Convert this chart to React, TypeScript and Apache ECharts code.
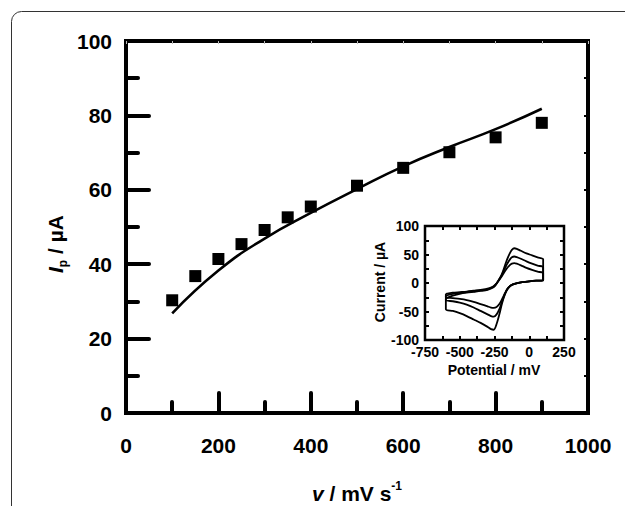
import React, { useEffect, useRef } from "react";
import * as echarts from "echarts";

// Main plot: peak current vs scan rate
const scanRates = [100, 150, 200, 250, 300, 350, 400, 500, 600, 700, 800, 900];
const peakCurrents = [30.3, 36.8, 41.4, 45.4, 49.2, 52.6, 55.5, 61.1, 65.9, 70.1, 74.1, 78.0];
const fitRates = [100, 200, 300, 400, 500, 600, 700, 800, 900];
const fitCurrents = [26.8, 38.3, 46.9, 53.8, 60.2, 66.3, 71.5, 76.3, 81.8];

// Inset: cyclic voltammograms (potential in mV, current in µA)
const forwardPotentials = [-600, -550, -500, -450, -400, -350, -300, -260, -240, -220, -200, -180, -160, -140, -125, -108, -90, -60, -20, 20, 60, 100];
const reversePotentials = [100, 50, 0, -50, -100, -130, -155, -175, -195, -215, -235, -255, -275, -300, -350, -400, -450, -500, -550, -600];
const forwardA = [-27, -22, -19, -17, -15.5, -14, -12, -8, -3, 5, 14, 27, 41, 52, 58, 61, 60, 56.5, 52, 48.5, 45, 41.5];
const forwardB = [-22, -19, -17.5, -16, -14.5, -13, -11, -7, -2.5, 5, 13, 23, 33, 41, 45, 46.5, 45.5, 42.5, 38, 34, 30.5, 27.5];
const forwardC = [-19, -17, -16, -15, -13.5, -12, -10, -6, -2, 4, 11, 19, 26, 31.5, 34, 35, 34, 31, 26.5, 23, 20, 17];
const reverseA = [4.5, 4, 3, 1.5, -1, -4, -10, -20, -35, -55, -72, -82, -81, -77, -70, -64, -58, -53, -49, -46];
const reverseB = [4.5, 4, 3, 1.5, -1, -4, -10, -19, -32, -46, -55, -59, -58, -55, -49, -43, -38, -34.5, -32, -30];
const reverseC = [4.5, 4, 3, 1.5, -1, -4, -9.5, -18, -28, -37, -42, -43.5, -43, -41, -37, -33, -30, -28, -26.5, -25];

const mainXTicks = { min: 0, max: 1000, interval: 200 };
const mainYTicks = { min: 0, max: 100, interval: 20 };
const insetXTicks = { min: -750, max: 250, interval: 250 };
const insetYTicks = { min: -100, max: 100, interval: 50 };

const FONT = "'Liberation Sans', Arial, Helvetica, sans-serif";

function loop(fp: number[], fv: number[], rp: number[], rv: number[]) {
  const pts: number[][] = [];
  fp.forEach((p, i) => pts.push([p, fv[i]]));
  rp.forEach((p, i) => pts.push([p, rv[i]]));
  pts.push([fp[0], fv[0]]);
  return pts;
}

export default function App() {
  const ref = useRef<HTMLDivElement>(null);
  useEffect(() => {
    if (!ref.current) return;
    const chart = echarts.init(ref.current, null, { renderer: "svg" });
    const black = "#000";
    const plain = (v: number) => String(v);
    const mainLabel = { color: black, fontFamily: FONT, fontWeight: "bold" as const, fontSize: 21, formatter: plain };
    const insetLabel = { color: black, fontFamily: FONT, fontWeight: "bold" as const, fontSize: 14, formatter: plain };
    const cvStyle = { color: black, width: 1.8 };
    const noLine = { show: false, onZero: false };
    const smallTick = { show: true, inside: true, length: 4, lineStyle: { color: black, width: 2 } };
    const smallMinor = { show: true, splitNumber: 2, length: 4, lineStyle: { color: black, width: 2 } };

    const option: any = {
      animation: false,
      backgroundColor: "#fff",
      grid: [
        { left: 126, top: 41, width: 462, height: 372, show: true, borderColor: black, borderWidth: 4, backgroundColor: "transparent" },
        { left: 425, top: 226, width: 139, height: 114, show: true, borderColor: black, borderWidth: 2.5, backgroundColor: "transparent" },
      ],
      xAxis: [
        {
          type: "value", gridIndex: 0, position: "bottom", ...mainXTicks,
          axisLine: noLine, splitLine: { show: false },
          axisTick: { show: true, inside: true, length: 20, lineStyle: { color: black, width: 4, cap: "round" } },
          minorTick: { show: true, splitNumber: 2, length: 11, lineStyle: { color: black, width: 4, cap: "round" } },
          axisLabel: { ...mainLabel, margin: 22 },
        },
        {
          type: "value", gridIndex: 0, position: "top", min: 0, max: 1000, interval: 100,
          axisLine: noLine, splitLine: { show: false },
          axisTick: { show: true, inside: true, length: 3, lineStyle: { color: "#bbb", width: 1 } },
          axisLabel: { show: false },
        },
        {
          type: "value", gridIndex: 1, position: "bottom", ...insetXTicks,
          axisLine: noLine, splitLine: { show: false },
          axisTick: smallTick, minorTick: smallMinor,
          axisLabel: { ...insetLabel, margin: 5 },
        },
        {
          type: "value", gridIndex: 1, position: "top", ...insetXTicks,
          axisLine: noLine, splitLine: { show: false },
          axisTick: smallTick, minorTick: smallMinor,
          axisLabel: { show: false },
        },
      ],
      yAxis: [
        {
          type: "value", gridIndex: 0, position: "left", ...mainYTicks,
          axisLine: noLine, splitLine: { show: false },
          axisTick: { show: true, inside: true, length: 23, lineStyle: { color: black, width: 4, cap: "round" } },
          minorTick: { show: true, splitNumber: 2, length: 12, lineStyle: { color: black, width: 4, cap: "round" } },
          axisLabel: { ...mainLabel, margin: 14 },
        },
        {
          type: "value", gridIndex: 0, position: "right", min: 0, max: 100, interval: 10,
          axisLine: noLine, splitLine: { show: false },
          axisTick: { show: true, inside: true, length: 4, lineStyle: { color: black, width: 2 } },
          axisLabel: { show: false },
        },
        {
          type: "value", gridIndex: 1, position: "left", ...insetYTicks,
          axisLine: noLine, splitLine: { show: false },
          axisTick: smallTick, minorTick: smallMinor,
          axisLabel: { ...insetLabel, margin: 6 },
        },
        {
          type: "value", gridIndex: 1, position: "right", ...insetYTicks,
          axisLine: noLine, splitLine: { show: false },
          axisTick: smallTick, minorTick: smallMinor,
          axisLabel: { show: false },
        },
      ],
      series: [
        {
          type: "line", xAxisIndex: 0, yAxisIndex: 0, showSymbol: false, smooth: true,
          lineStyle: { color: black, width: 2.6 },
          data: fitRates.map((v, i) => [v, fitCurrents[i]]),
          z: 3,
        },
        {
          type: "scatter", xAxisIndex: 0, yAxisIndex: 0, symbol: "rect", symbolSize: 12,
          itemStyle: { color: black, opacity: 1 },
          data: scanRates.map((v, i) => [v, peakCurrents[i]]),
          z: 4,
        },
        { type: "line", xAxisIndex: 2, yAxisIndex: 2, showSymbol: false, smooth: 0.3, lineStyle: cvStyle, data: loop(forwardPotentials, forwardA, reversePotentials, reverseA) },
        { type: "line", xAxisIndex: 2, yAxisIndex: 2, showSymbol: false, smooth: 0.3, lineStyle: cvStyle, data: loop(forwardPotentials, forwardB, reversePotentials, reverseB) },
        { type: "line", xAxisIndex: 2, yAxisIndex: 2, showSymbol: false, smooth: 0.3, lineStyle: cvStyle, data: loop(forwardPotentials, forwardC, reversePotentials, reverseC) },
      ],
      graphic: [
        {
          type: "rect", z: -10, silent: true,
          shape: { x: 11.5, y: 11.5, width: 900, height: 900, r: 10 },
          style: { fill: "none", stroke: "#333", lineWidth: 1 },
        },
        {
          type: "text", x: 55, y: 244, rotation: Math.PI / 2,
          style: {
            text: "{i|I}{sub|p}{n| / µA}",
            textAlign: "center", textVerticalAlign: "middle", fill: black,
            rich: {
              i: { fontFamily: FONT, fontWeight: "bold", fontStyle: "italic", fontSize: 21, lineHeight: 28, fill: black },
              sub: { fontFamily: FONT, fontWeight: "bold", fontSize: 12, lineHeight: 28, verticalAlign: "bottom", fill: black },
              n: { fontFamily: FONT, fontWeight: "bold", fontSize: 21, lineHeight: 28, fill: black },
            },
          },
        },
        {
          type: "text", x: 357, y: 493,
          style: {
            text: "{i|v}{n| / mV s}{sup|-1}",
            textAlign: "center", textVerticalAlign: "middle", fill: black,
            rich: {
              i: { fontFamily: FONT, fontWeight: "bold", fontStyle: "italic", fontSize: 21, lineHeight: 26, fill: black },
              n: { fontFamily: FONT, fontWeight: "bold", fontSize: 21, lineHeight: 26, fill: black },
              sup: { fontFamily: FONT, fontWeight: "bold", fontSize: 12, lineHeight: 26, verticalAlign: "top", fill: black },
            },
          },
        },
        {
          type: "text", x: 494, y: 370,
          style: { text: "Potential / mV", textAlign: "center", textVerticalAlign: "middle", fill: black, font: `bold 14px ${FONT}` },
        },
        {
          type: "text", x: 380, y: 282, rotation: Math.PI / 2,
          style: { text: "Current / µA", textAlign: "center", textVerticalAlign: "middle", fill: black, font: `bold 14px ${FONT}` },
        },
      ],
    };
    chart.setOption(option);
    return () => chart.dispose();
  }, []);
  return <div ref={ref} style={{ position: "fixed", left: 0, top: 0, width: 625, height: 506 }} />;
}
